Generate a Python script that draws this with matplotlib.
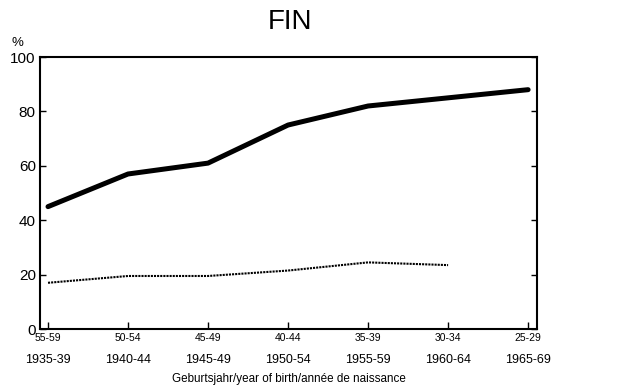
import matplotlib
matplotlib.use("Agg")
import matplotlib.pyplot as plt
from matplotlib.transforms import blended_transform_factory

plt.rcParams['font.family'] = ['Liberation Sans', 'DejaVu Sans']

age_groups = ["55-59", "50-54", "45-49", "40-44", "35-39", "30-34", "25-29"]
birth_years = ["1935-39", "1940-44", "1945-49", "1950-54", "1955-59", "1960-64", "1965-69"]
series_solid = [45, 57, 61, 75, 82, 85, 88]
series_dotted = [17, 19.5, 19.5, 21.5, 24.5, 23.5]

fig = plt.figure(figsize=(6.33, 3.88), dpi=100)
ax = fig.add_axes([0.0632, 0.152, 0.785, 0.701])

x = list(range(len(age_groups)))
ax.plot(x, series_solid, color='black', lw=3.6, solid_capstyle='round')
ax.plot(x[:len(series_dotted)], series_dotted, color='black', lw=1.5, linestyle=(0, (1, 0.5)))

ax.set_xlim(-0.1, 6.11)
ax.set_ylim(0, 100)
ax.set_yticks([0, 20, 40, 60, 80, 100])
ax.set_yticklabels(["0", "20", "40", "60", "80", "100"], fontsize=11)
ax.set_xticks(x)
ax.set_xticklabels(age_groups, fontsize=7.5)
ax.tick_params(axis='y', direction='in', length=4, width=1, right=True, pad=3)
ax.tick_params(axis='x', direction='in', length=5, width=1, pad=3)
for s in ax.spines.values():
    s.set_linewidth(1.5)

trans = blended_transform_factory(ax.transData, ax.transAxes)
for xi, by in zip(x, birth_years):
    ax.text(xi, -0.09, by, transform=trans, ha='center', va='top', fontsize=9)

ax.text(0.5, -0.16, "Geburtsjahr/year of birth/année de naissance", transform=ax.transAxes,
        ha='center', va='top', fontsize=8.4)
fig.text(0.458, 0.943, "FIN", ha='center', va='center', fontsize=20)
fig.text(0.028, 0.89, "%", ha='center', va='center', fontsize=9.5)

fig.savefig("out.png", dpi=100)
